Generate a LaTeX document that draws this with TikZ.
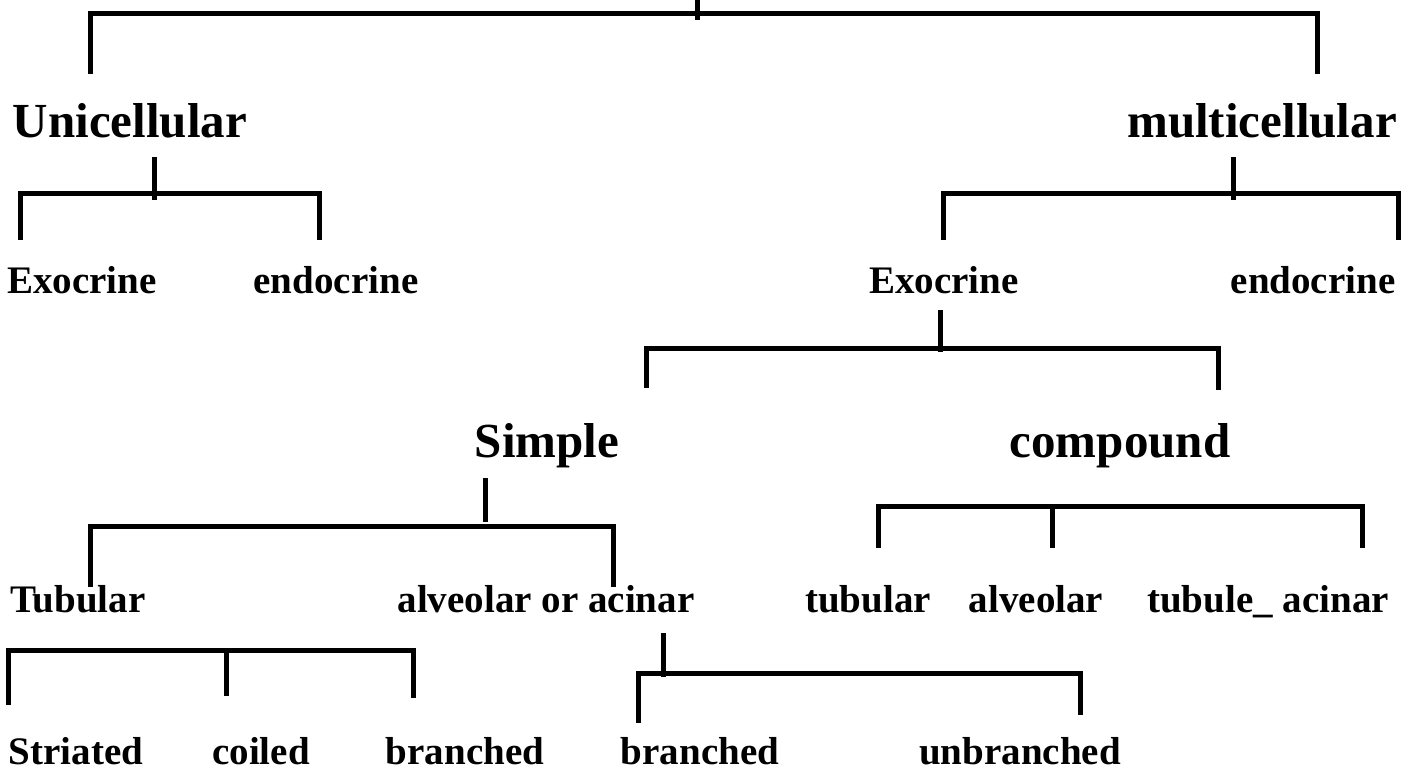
\documentclass[tikz,border=0pt]{standalone}
\usepackage{fontspec}
\setmainfont{Liberation Serif}
\begin{document}
\begin{tikzpicture}[x=0.5pt,y=-0.5pt,
  bigl/.style={font=\bfseries\fontsize{24.5}{29}\selectfont, anchor=base, inner sep=0pt},
  smalll/.style={font=\bfseries\fontsize{19.5}{23}\selectfont, anchor=base, inner sep=0pt},
  conn/.style={line width=2.5pt, line join=miter, line cap=butt}]
\useasboundingbox (0,0) rectangle (1417,772);
% labels
\node[bigl] (uni) at (130,137) {Unicellular};
\node[bigl] (multi) at (1262,137) {multicellular};
\node[smalll] (exoL) at (82,293) {Exocrine};
\node[smalll] (endoL) at (336,293) {endocrine};
\node[smalll] (exoR) at (944,293) {Exocrine};
\node[smalll] (endoR) at (1313,293) {endocrine};
\node[bigl] (simple) at (547,457) {Simple};
\node[bigl] (compound) at (1120,457) {compound};
\node[smalll] (tubL) at (78,612) {Tubular};
\node[smalll] (alvac) at (546,612) {alveolar or acinar};
\node[smalll] (tubC) at (868,612) {tubular};
\node[smalll] (alvC) at (1036,612) {alveolar};
\node[smalll] (tubac) at (1268,612) {tubule\_ acinar};
\node[smalll] (stri) at (76,764) {Striated};
\node[smalll] (coil) at (261,764) {coiled};
\node[smalll] (brT) at (465,764) {branched};
\node[smalll] (brA) at (700,764) {branched};
\node[smalll] (unbr) at (1020,764) {unbranched};
% bracket coordinates
\coordinate (r0) at (697,0);   \coordinate (j0) at (697,20);
\coordinate (l0a) at (90,74);  \coordinate (l0b) at (1317,74);
\coordinate (s1) at (154,157); \coordinate (j1) at (154,200);
\coordinate (l1a) at (20,240); \coordinate (l1b) at (319,240);
\coordinate (s2) at (1233,157); \coordinate (j2) at (1233,200);
\coordinate (l2a) at (943,240); \coordinate (l2b) at (1398,240);
\coordinate (s3) at (940,310); \coordinate (j3) at (940,352);
\coordinate (l3a) at (646,388); \coordinate (l3b) at (1218,390);
\coordinate (s4) at (485,478); \coordinate (j4) at (485,522);
\coordinate (l4a) at (90,587); \coordinate (l4b) at (613,587);
\coordinate (l5a) at (878,548); \coordinate (l5m) at (1052,548); \coordinate (l5b) at (1362,548);
\coordinate (l6a) at (8,705); \coordinate (l6m) at (226,696); \coordinate (l6b) at (413,698);
\coordinate (s7) at (663,633); \coordinate (j7) at (663,677);
\coordinate (l7a) at (638,723); \coordinate (l7b) at (1080,715);
% connectors
\draw[conn] (r0) -- (j0);
\draw[conn] (l0a) |- (l0b |- 0,13) -- (l0b);
\draw[conn] (s1) -- (j1);
\draw[conn] (l1a) |- (l1b |- 0,193) -- (l1b);
\draw[conn] (s2) -- (j2);
\draw[conn] (l2a) |- (l2b |- 0,193) -- (l2b);
\draw[conn] (s3) -- (j3);
\draw[conn] (l3a) |- (l3b |- 0,348) -- (l3b);
\draw[conn] (s4) -- (j4);
\draw[conn] (l4a) |- (l4b |- 0,526) -- (l4b);
\draw[conn] (l5a) |- (l5b |- 0,506) -- (l5b);
\draw[conn] (l5m |- 0,506) -- (l5m);
\draw[conn] (l6a) |- (l6b |- 0,650) -- (l6b);
\draw[conn] (l6m |- 0,650) -- (l6m);
\draw[conn] (s7) -- (j7);
\draw[conn] (l7a) |- (l7b |- 0,673) -- (l7b);
\end{tikzpicture}
\end{document}
